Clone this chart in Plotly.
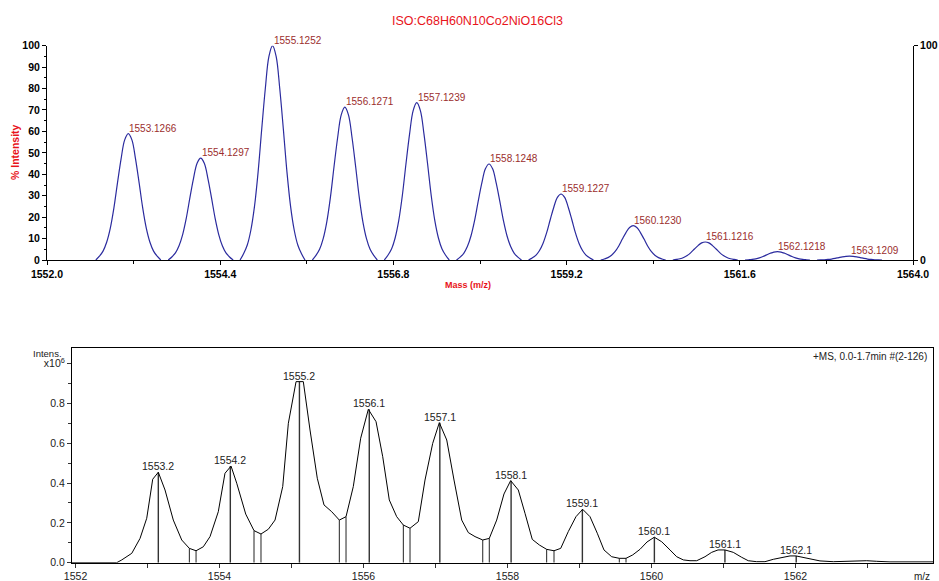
import plotly.graph_objects as go

W, H = 939, 581
FONT = "Liberation Sans, Arial, sans-serif"

# ---------------- top panel: simulated isotope pattern ----------------
iso_mz = [1553.1266, 1554.1297, 1555.1252, 1556.1271, 1557.1239, 1558.1248,
          1559.1227, 1560.1230, 1561.1216, 1562.1218, 1563.1209]
iso_pct = [59.0, 47.5, 100.0, 71.3, 73.4, 44.8, 30.8, 16.0, 8.4, 3.9, 1.8]
iso_labels = ["1553.1266", "1554.1297", "1555.1252", "1556.1271", "1557.1239",
              "1558.1248", "1559.1227", "1560.1230", "1561.1216", "1562.1218",
              "1563.1209"]
# peak profile read from the 100 % peak: m/z offset and relative height
shape_dx = [-0.45, -0.40, -0.35, -0.30, -0.25, -0.20, -0.15, -0.10, -0.05, 0.0,
            0.05, 0.10, 0.15, 0.20, 0.25, 0.30, 0.35, 0.40, 0.45]
shape_rel = [0.0, 0.03, 0.07, 0.14, 0.25, 0.41, 0.61, 0.80, 0.95, 1.0,
             0.95, 0.80, 0.61, 0.41, 0.25, 0.14, 0.07, 0.03, 0.0]

# ---------------- bottom panel: measured spectrum ----------------
ms_mz = [1551.951, 1552.572, 1552.642, 1552.781, 1552.896, 1552.989, 1553.072,
         1553.150, 1553.243, 1553.358, 1553.475, 1553.581, 1553.674, 1553.775,
         1553.868, 1553.983, 1554.076, 1554.160, 1554.239, 1554.364, 1554.479,
         1554.576, 1554.678, 1554.771, 1554.878, 1554.956, 1555.063, 1555.164,
         1555.257, 1555.358, 1555.451, 1555.558, 1555.664, 1555.757, 1555.858,
         1555.961, 1556.067, 1556.174, 1556.267, 1556.358, 1556.461, 1556.553,
         1556.646, 1556.761, 1556.854, 1556.961, 1557.053, 1557.156, 1557.257,
         1557.364, 1557.456, 1557.549, 1557.656, 1557.747, 1557.850, 1557.951,
         1558.044, 1558.150, 1558.243, 1558.344, 1558.442, 1558.544, 1558.646,
         1558.739, 1558.844, 1558.951, 1559.044, 1559.146, 1559.247, 1559.340,
         1559.447, 1559.553, 1559.646, 1559.739, 1559.840, 1559.938, 1560.039,
         1560.142, 1560.257, 1560.350, 1560.442, 1560.535, 1560.628, 1560.743,
         1560.836, 1560.924, 1561.021, 1561.136, 1561.253, 1561.344, 1561.461,
         1561.576, 1561.692, 1561.808, 1561.924, 1562.007, 1562.108, 1562.225,
         1562.340, 1562.525, 1562.803, 1562.989, 1563.128, 1563.313, 1563.910]
ms_int = [0.0, 0.0, 0.014, 0.047, 0.122, 0.223, 0.419,
          0.454, 0.365, 0.214, 0.114, 0.072, 0.060, 0.080,
          0.131, 0.256, 0.449, 0.485, 0.399, 0.244, 0.161,
          0.144, 0.168, 0.214, 0.382, 0.700, 0.909, 0.909,
          0.666, 0.424, 0.290, 0.256, 0.214, 0.231, 0.382,
          0.625, 0.770, 0.708, 0.532, 0.315, 0.231, 0.189,
          0.173, 0.206, 0.415, 0.599, 0.703, 0.616, 0.415,
          0.214, 0.151, 0.131, 0.114, 0.122, 0.214, 0.345,
          0.412, 0.365, 0.248, 0.117, 0.089, 0.067, 0.060,
          0.072, 0.156, 0.231, 0.268, 0.231, 0.148, 0.064,
          0.030, 0.022, 0.022, 0.039, 0.067, 0.104, 0.128,
          0.105, 0.064, 0.030, 0.014, 0.010, 0.010, 0.030,
          0.052, 0.064, 0.064, 0.052, 0.027, 0.010, 0.005,
          0.005, 0.017, 0.027, 0.034, 0.034, 0.027, 0.017,
          0.009, 0.005, 0.009, 0.010, 0.007, 0.004, 0.004]

peak_mz = [1553.15, 1554.15, 1555.11, 1556.08, 1557.06, 1558.05, 1559.04,
           1560.04, 1561.02, 1562.01]
peak_int = [0.454, 0.485, 0.909, 0.770, 0.703, 0.412, 0.268, 0.128, 0.064, 0.034]
peak_labels = ["1553.2", "1554.2", "1555.2", "1556.1", "1557.1", "1558.1",
               "1559.1", "1560.1", "1561.1", "1562.1"]

valley_mz = [1553.581, 1553.674, 1554.479, 1554.576, 1555.664, 1555.757,
             1556.553, 1556.646, 1557.656, 1557.747, 1558.544, 1558.646,
             1559.553, 1559.646]
valley_int = [0.072, 0.060, 0.161, 0.144, 0.214, 0.231, 0.189, 0.173,
              0.114, 0.122, 0.067, 0.060, 0.022, 0.022]

# ---------------- build traces ----------------
top_x, top_y = [], []
for mz, pct in zip(iso_mz, iso_pct):
    for dx, r in zip(shape_dx, shape_rel):
        top_x.append(mz + dx)
        top_y.append(pct * r)
    top_x.append(None)
    top_y.append(None)

fig = go.Figure()
fig.add_trace(go.Scatter(x=top_x, y=top_y, mode="lines", xaxis="x", yaxis="y",
                         line=dict(color="#2b2b9e", width=1.2, shape="spline"),
                         connectgaps=False, hoverinfo="skip", showlegend=False))
fig.add_trace(go.Scatter(x=[iso_mz[0]], y=[0], mode="markers", xaxis="x", yaxis="y2",
                         marker=dict(opacity=0), hoverinfo="skip", showlegend=False))


def sticks(xs, ys):
    sx, sy = [], []
    for a, b in zip(xs, ys):
        sx += [a, a, None]
        sy += [0, b, None]
    return sx, sy


vx, vy = sticks(valley_mz, valley_int)
fig.add_trace(go.Scatter(x=vx, y=vy, mode="lines", xaxis="x2", yaxis="y3",
                         line=dict(color="#222222", width=1),
                         hoverinfo="skip", showlegend=False))
px_, py_ = sticks(peak_mz, peak_int)
fig.add_trace(go.Scatter(x=px_, y=py_, mode="lines", xaxis="x2", yaxis="y3",
                         line=dict(color="#333333", width=1.4),
                         hoverinfo="skip", showlegend=False))
fig.add_trace(go.Scatter(x=ms_mz, y=ms_int, mode="lines", xaxis="x2", yaxis="y3",
                         line=dict(color="#000000", width=1),
                         hoverinfo="skip", showlegend=False))

annotations = []
for mz, pct, lab in zip(iso_mz, iso_pct, iso_labels):
    annotations.append(dict(x=mz, y=pct, xref="x", yref="y", text=lab,
                            showarrow=False, xanchor="left", yanchor="bottom",
                            xshift=-1, yshift=-2,
                            font=dict(family=FONT, size=10, color="#9b2d2d")))
for mz, v, lab in zip(peak_mz, peak_int, peak_labels):
    annotations.append(dict(x=mz, y=v, xref="x2", yref="y3", text=lab,
                            showarrow=False, xanchor="center", yanchor="bottom",
                            yshift=-2,
                            font=dict(family=FONT, size=10.5, color="#222222")))


def P(px, py):
    return px / W, 1 - py / H


tx, ty = P(477, 20.7)
annotations.append(dict(x=tx, y=ty, xref="paper", yref="paper",
                        text="ISO:C68H60N10Co2NiO16Cl3", showarrow=False,
                        xanchor="center", yanchor="middle",
                        font=dict(family=FONT, size=12.5, color="#e8141b")))
tx, ty = P(15, 152)
annotations.append(dict(x=tx, y=ty, xref="paper", yref="paper", text="% Intensity",
                        showarrow=False, textangle=-90, xanchor="center", yanchor="middle",
                        font=dict(family=FONT, size=10.5, color="#e8141b", weight="bold")))
tx, ty = P(468, 285)
annotations.append(dict(x=tx, y=ty, xref="paper", yref="paper", text="Mass (m/z)",
                        showarrow=False, xanchor="center", yanchor="middle",
                        font=dict(family=FONT, size=9, color="#e8141b", weight="bold")))
tx, ty = P(929, 356)
annotations.append(dict(x=tx, y=ty, xref="paper", yref="paper",
                        text="+MS, 0.0-1.7min #(2-126)", showarrow=False,
                        xanchor="right", yanchor="middle",
                        font=dict(family=FONT, size=10, color="#222222")))
tx, ty = P(64, 353)
annotations.append(dict(x=tx, y=ty, xref="paper", yref="paper", text="Intens.",
                        showarrow=False, xanchor="right", yanchor="middle",
                        font=dict(family=FONT, size=9.5, color="#222222")))
tx, ty = P(921.5, 576)
annotations.append(dict(x=tx, y=ty, xref="paper", yref="paper", text="m/z",
                        showarrow=False, xanchor="center", yanchor="middle",
                        font=dict(family=FONT, size=10, color="#222222")))

top_tick_font = dict(family=FONT, size=10.5, color="#000000", weight="bold")
bot_tick_font = dict(family=FONT, size=10.5, color="#222222")

fig.update_layout(
    width=W, height=H, template="none",
    margin=dict(l=0, r=0, t=0, b=0, pad=0),
    paper_bgcolor="white", plot_bgcolor="white",
    showlegend=False,
    annotations=annotations,
    xaxis=dict(domain=[47 / W, 913 / W], range=[1552.0, 1564.0], anchor="y",
               tick0=1552.0, dtick=2.4, tickformat=".1f",
               showline=True, linecolor="#000000", linewidth=1,
               ticks="outside", ticklen=4, tickwidth=1, tickcolor="#000000",
               minor=dict(ticks="outside", dtick=1.2, tick0=1552.0, ticklen=3,
                          tickcolor="#000000", showgrid=False),
               showgrid=False, zeroline=False, automargin=False,
               tickfont=top_tick_font),
    yaxis=dict(domain=[1 - 260 / H, 1 - 45.7 / H], range=[0, 100], anchor="x",
               tick0=0, dtick=10,
               showline=True, linecolor="#000000", linewidth=1,
               ticks="outside", ticklen=4, tickwidth=1, tickcolor="#000000",
               minor=dict(ticks="outside", dtick=5, tick0=0, ticklen=2,
                          tickcolor="#000000", showgrid=False),
               showgrid=False, zeroline=False, automargin=False,
               tickfont=top_tick_font),
    yaxis2=dict(overlaying="y", side="right", anchor="x", range=[0, 100],
                tickvals=[0, 100], ticktext=["0", "100"],
                showline=True, linecolor="#000000", linewidth=1,
                ticks="outside", ticklen=4, tickwidth=1, tickcolor="#000000",
                showgrid=False, zeroline=False, automargin=False,
                tickfont=top_tick_font),
    xaxis2=dict(domain=[72 / W, 933 / W], range=[1551.951, 1563.910], anchor="y3",
                tick0=1552, dtick=2, tickformat="d",
                showline=True, mirror=True, linecolor="#000000", linewidth=1.3,
                ticks="outside", ticklen=4, tickwidth=1, tickcolor="#333333",
                minor=dict(ticks="outside", dtick=1, tick0=1552, ticklen=4,
                           tickcolor="#333333", showgrid=False),
                showgrid=False, zeroline=False, automargin=False,
                tickfont=bot_tick_font),
    yaxis3=dict(domain=[1 - 562.7 / H, 1 - 348 / H], range=[0, 1.0778], anchor="x2",
                tickvals=[0, 0.2, 0.4, 0.6, 0.8, 1.0],
                ticktext=["0.0", "0.2", "0.4", "0.6", "0.8", "x10<sup>6</sup>"],
                showline=True, mirror=True, linecolor="#000000", linewidth=1,
                ticks="outside", ticklen=4, tickwidth=1, tickcolor="#333333",
                minor=dict(ticks="outside", tickvals=[0.1, 0.3, 0.5, 0.7, 0.9],
                           ticklen=3, tickcolor="#333333", showgrid=False),
                showgrid=False, zeroline=False, automargin=False,
                tickfont=bot_tick_font),
)

fig.write_html("out.html")
